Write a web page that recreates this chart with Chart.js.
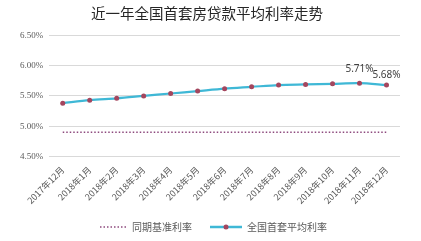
<!DOCTYPE html>
<html>
<head>
<meta charset="utf-8">
<script src="https://cdn.jsdelivr.net/npm/chart.js@4/dist/chart.umd.min.js"></script>
<style>
  body { margin: 0; background: #fff; }
  #wrap { width: 421px; height: 241px; }
</style>
</head>
<body>
<div id="wrap"><canvas id="rateChart" width="421" height="241"></canvas></div>
<script>
// chart data
const months = ['2017年12月', '2018年1月', '2018年2月', '2018年3月', '2018年4月', '2018年5月', '2018年6月',
    '2018年7月', '2018年8月', '2018年9月', '2018年10月', '2018年11月', '2018年12月'];
const avgRate = [5.38, 5.43, 5.46, 5.50, 5.54, 5.58, 5.62, 5.65, 5.68, 5.69, 5.70, 5.71, 5.68];
const baseRate = [4.90, 4.90, 4.90, 4.90, 4.90, 4.90, 4.90, 4.90, 4.90, 4.90, 4.90, 4.90, 4.90];
const labelled = [11, 12]; // points that carry a value label
const yTicks = [4.5, 5.0, 5.5, 6.0, 6.5];

const lineColor = '#3FB8D6';
const dotColor = '#A4465E';
const baseColor = '#8E4A7E';
const textColor = '#595959';

// value labels on the last two points
const valueLabels = {
    id: 'valueLabels',
    afterDatasetsDraw(chart) {
        const meta = chart.getDatasetMeta(1);
        const ctx = chart.ctx;
        ctx.save();
        ctx.font = '10px "Noto Sans", sans-serif';
        ctx.fillStyle = '#404040';
        ctx.textAlign = 'center';
        ctx.textBaseline = 'bottom';
        labelled.forEach(i => {
            const p = meta.data[i];
            const lift = i === 11 ? 9 : 5;
            ctx.fillText(avgRate[i].toFixed(2) + '%', p.x, p.y - lift);
        });
        ctx.restore();
    }
};

// bottom legend drawn by hand (dotted sample + line-with-dot sample)
const bottomLegend = {
    id: 'bottomLegend',
    afterDraw(chart) {
        const ctx = chart.ctx;
        const y = 227;
        ctx.save();
        ctx.lineWidth = 1.5;
        ctx.strokeStyle = baseColor;
        ctx.setLineDash([1.5, 2]);
        ctx.beginPath();
        ctx.moveTo(100, y);
        ctx.lineTo(127, y);
        ctx.stroke();
        ctx.setLineDash([]);
        ctx.strokeStyle = lineColor;
        ctx.lineWidth = 2.5;
        ctx.beginPath();
        ctx.moveTo(210, y);
        ctx.lineTo(242, y);
        ctx.stroke();
        ctx.fillStyle = dotColor;
        ctx.beginPath();
        ctx.arc(226, y, 2.5, 0, Math.PI * 2);
        ctx.fill();
        ctx.font = '10px "Noto Sans CJK SC", sans-serif';
        ctx.fillStyle = textColor;
        ctx.textBaseline = 'middle';
        ctx.fillText('同期基准利率', 132, y);
        ctx.fillText('全国首套平均利率', 247, y);
        ctx.restore();
    }
};

new Chart(document.getElementById('rateChart'), {
    type: 'line',
    data: {
        labels: months,
        datasets: [
            {
                label: '同期基准利率',
                data: baseRate,
                borderColor: baseColor,
                borderWidth: 1.5,
                borderDash: [1.5, 2],
                pointRadius: 0,
                fill: false
            },
            {
                label: '全国首套平均利率',
                data: avgRate,
                borderColor: lineColor,
                borderWidth: 2.2,
                tension: 0.3,
                pointRadius: 2.5,
                pointBackgroundColor: dotColor,
                pointBorderColor: dotColor,
                pointBorderWidth: 0,
                fill: false
            }
        ]
    },
    options: {
        responsive: false,
        animation: false,
        layout: { padding: { left: 14, right: 21, top: 0, bottom: 35 } },
        plugins: {
            legend: { display: false },
            tooltip: { enabled: false },
            title: {
                display: true,
                text: '近一年全国首套房贷款平均利率走势',
                color: '#262626',
                font: { size: 14.5, family: '"Noto Sans CJK SC", sans-serif', weight: 'normal' },
                padding: { top: 5, bottom: 13 }
            }
        },
        scales: {
            x: {
                offset: true,
                grid: { display: false },
                border: { display: false },
                ticks: {
                    color: textColor,
                    font: { size: 9, family: '"Noto Sans CJK SC", sans-serif' },
                    minRotation: 45,
                    maxRotation: 45,
                    padding: 0
                }
            },
            y: {
                min: 4.5,
                max: 6.5,
                afterBuildTicks: axis => { axis.ticks = yTicks.map(v => ({ value: v })); },
                grid: { color: '#D9D9D9', lineWidth: 1, drawTicks: false },
                border: { display: false },
                ticks: {
                    color: textColor,
                    font: { size: 9, family: '"Liberation Serif", serif' },
                    padding: 6,
                    callback: v => v.toFixed(2) + '%'
                }
            }
        }
    },
    plugins: [valueLabels, bottomLegend]
});
</script>
</body>
</html>
